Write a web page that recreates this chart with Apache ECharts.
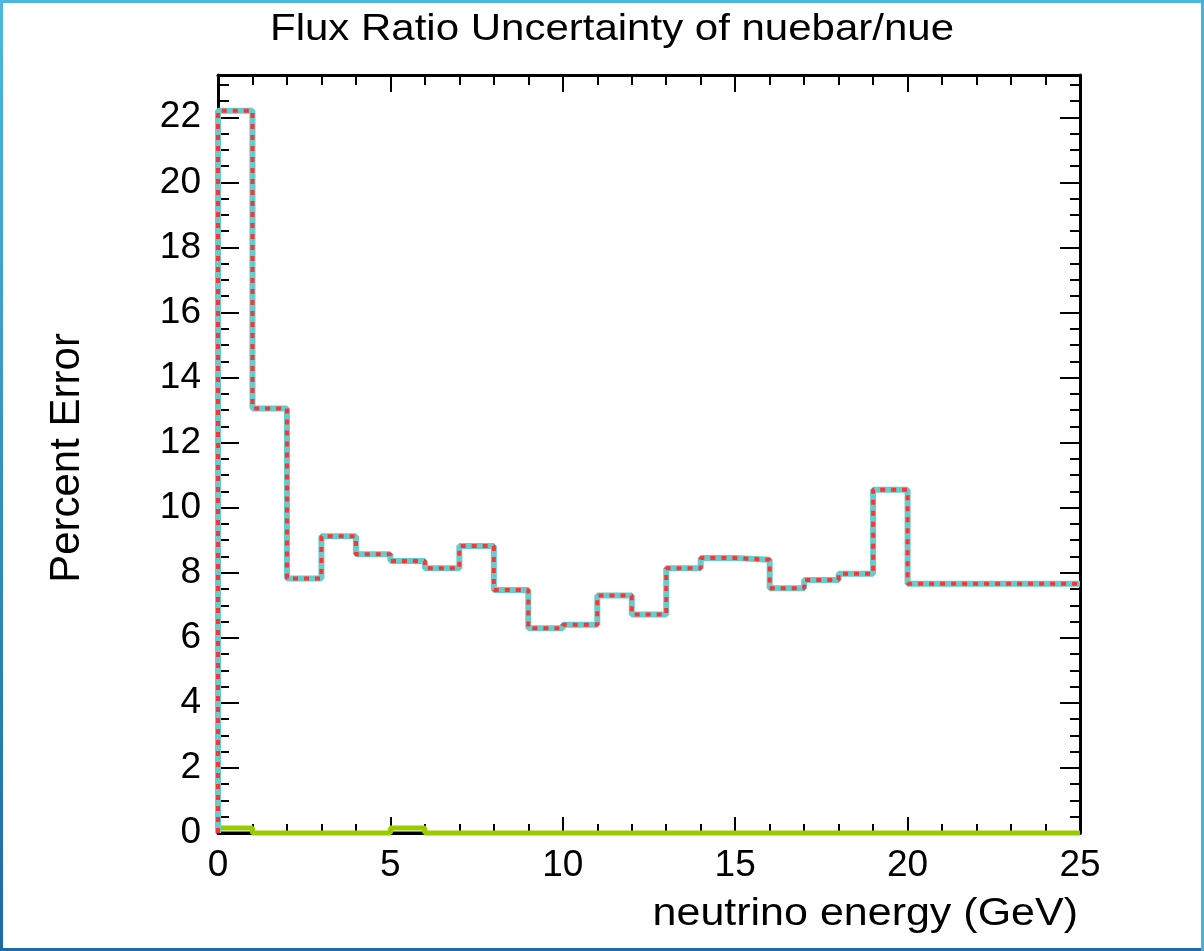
<!DOCTYPE html>
<html><head><meta charset="utf-8">
<script src="https://cdn.jsdelivr.net/npm/echarts@6/dist/echarts.min.js"></script>
<style>
html,body{margin:0;padding:0;background:#fff;}
#wrap{position:relative;width:1204px;height:951px;overflow:hidden;background:#fff;}
#chart{position:absolute;left:0;top:0;width:1204px;height:951px;}
.b{position:absolute;}
</style></head><body>
<div id="wrap"><div id="chart"></div>
<div class="b" style="left:0;top:0;width:1204px;height:3px;background:#4db8dc"></div>
<div class="b" style="left:0;top:0;width:3px;height:951px;background:linear-gradient(#4db8dc,#1b6aa3)"></div>
<div class="b" style="left:0;bottom:0;width:1204px;height:3px;background:#1d6aa4"></div>
<div class="b" style="right:0;top:0;width:3px;height:951px;background:#4ab2d8"></div>
</div>
<script>
// Bin edges (GeV) of the histogram
const binEdges = [0,1,2,3,4,5,6,7,8,9,10,11,12,13,14,15,16,17,18,19,20,25];
// Percent error per bin (flux ratio nuebar/nue)
const fluxRatioErr = [22.2, 13.05, 7.82, 9.12, 8.57, 8.36, 8.14, 8.82, 7.47, 6.29, 6.4, 7.3, 6.72, 8.14, 8.45, 8.4, 7.52, 7.78, 7.97, 10.55, 7.66];
// Small component (green)
const greenErr = [0.15, 0, 0, 0, 0, 0.15, 0, 0, 0, 0, 0, 0, 0, 0, 0, 0, 0, 0, 0, 0, 0];
// Zero component (black)
const blackErr = [0, 0, 0, 0, 0, 0, 0, 0, 0, 0, 0, 0, 0, 0, 0, 0, 0, 0, 0, 0, 0];
const xTicks = [0, 5, 10, 15, 20, 25];
const yTicks = [0, 2, 4, 6, 8, 10, 12, 14, 16, 18, 20, 22];
const titleText = 'Flux Ratio Uncertainty of nuebar/nue';
const xName = 'neutrino energy (GeV)';
const yName = 'Percent Error';

function histPoints(vals) {
  const pts = [[binEdges[0], 0]];
  for (let i = 0; i < vals.length; i++) pts.push([binEdges[i], vals[i]]);
  pts.push([binEdges[binEdges.length - 1], vals[vals.length - 1]]);
  return pts;
}

const FONT = '"Liberation Sans", Arial, Helvetica, sans-serif';
const YMAX = 23.3;

const chart = echarts.init(document.getElementById('chart'), null, {renderer: 'canvas'});
const blackLine = {color: '#000', width: 3};
const tickStyle = {color: '#000', width: 2};

function xAx(pos, interval, len, labels, lineShow) {
  return {type: 'value', position: pos, min: 0, max: 25, interval: interval,
    axisLine: {show: lineShow, lineStyle: blackLine, onZero: false},
    axisTick: {show: true, inside: true, length: len, lineStyle: tickStyle},
    splitLine: {show: false},
    axisLabel: labels ? {show: true, color: '#000', fontSize: 37, fontFamily: FONT, margin: 14,
      formatter: v => xTicks.includes(v) ? String(v) : ''} : {show: false}};
}
function yAx(pos, interval, len, labels, lineShow) {
  return {type: 'value', position: pos, min: 0, max: YMAX, interval: interval,
    axisLine: {show: lineShow, lineStyle: blackLine, onZero: false},
    axisTick: {show: true, inside: true, length: len, lineStyle: tickStyle},
    splitLine: {show: false},
    axisLabel: labels ? {show: true, color: '#000', fontSize: 37, fontFamily: FONT, margin: 17,
      formatter: v => yTicks.includes(v) ? String(v) : ''} : {show: false}};
}

const option = {
  animation: false,
  backgroundColor: '#fff',
  grid: {left: 218, right: 124, top: 75, bottom: 118, containLabel: false},
  xAxis: [
    xAx('bottom', 5, 16, true, true),
    xAx('top', 5, 17, false, true),
    xAx('bottom', 1, 9, false, false),
    xAx('top', 1, 10, false, false)
  ],
  yAxis: [
    yAx('left', 2, 21, true, true),
    yAx('right', 2, 20, false, true),
    yAx('left', 0.5, 11, false, false),
    yAx('right', 0.5, 10, false, false)
  ],
  graphic: [
    {type: 'text', x: 612, y: 30, scaleY: 0.9, z: 100,
     style: {text: titleText, fill: '#000', font: '42px ' + FONT, align: 'center', verticalAlign: 'middle'}},
    {type: 'text', x: 1078, y: 914, scaleY: 0.9, z: 100,
     style: {text: xName, fill: '#000', font: '43px ' + FONT, align: 'right', verticalAlign: 'middle'}},
    {type: 'text', x: 67, y: 458, rotation: Math.PI / 2, z: 100,
     style: {text: yName, fill: '#000', font: '42px ' + FONT, align: 'center', verticalAlign: 'middle'}}
  ],
  series: [
    {type: 'line', name: 'zero', step: 'end', xAxisIndex: 0, yAxisIndex: 0, data: histPoints(blackErr),
     showSymbol: false, clip: false, lineStyle: {color: '#000', width: 3}, z: 2, silent: true},
    {type: 'line', name: 'green', step: 'end', xAxisIndex: 0, yAxisIndex: 0, data: histPoints(greenErr),
     showSymbol: false, clip: false, lineStyle: {color: '#99cc00', width: 5}, z: 3, silent: true},
    {type: 'line', name: 'total', step: 'end', xAxisIndex: 0, yAxisIndex: 0, data: histPoints(fluxRatioErr),
     showSymbol: false, clip: false, lineStyle: {color: '#66cccc', width: 6}, z: 4, silent: true},
    {type: 'line', name: 'total dotted', step: 'end', xAxisIndex: 0, yAxisIndex: 0, data: histPoints(fluxRatioErr),
     showSymbol: false, clip: false, lineStyle: {color: '#ff3333', width: 4, type: [5, 6]}, z: 5, silent: true}
  ]
};
chart.setOption(option);
</script>
</body></html>
